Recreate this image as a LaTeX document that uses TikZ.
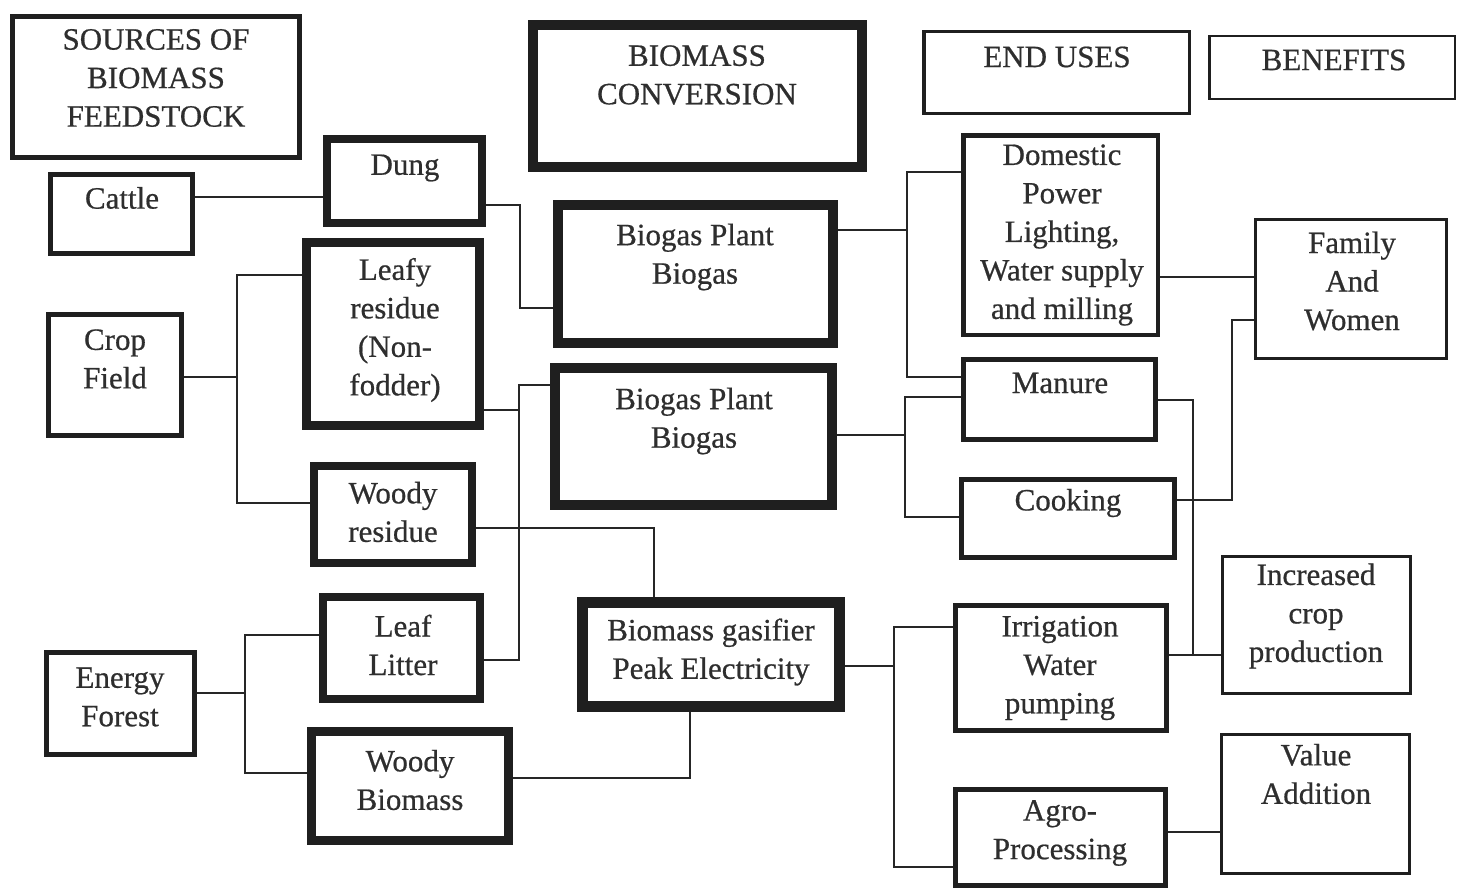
\documentclass[tikz,border=0pt]{standalone}
\usepackage{fontspec}
\setmainfont[FakeBold=0.6]{Liberation Serif}
\tikzset{
  bx/.style={draw=black!88, fill=white, inner sep=0pt},
  txt/.style={align=center, text=black!82, font=\fontsize{31}{38.5}\selectfont, inner sep=0pt},
  conn/.style={draw=black!85, line width=2.4pt},
}
\newcommand{\mkbox}[9]{%
  \node[bx, line width=#6pt, minimum width={(#4-#2-#6)*1pt}, minimum height={(#5-#3-#6)*1pt}] (#1) at ({(#2+#4)/2},{(#3+#5)/2}) {};
  \node[txt] (#1t) at (#7,#8) {#9};
}
\begin{document}
\begin{tikzpicture}[x=1pt,y=-1pt]
\fill[white] (0,0) rectangle (1465,891);
\useasboundingbox (0,0) rectangle (1465,891);
% headers
\mkbox{src}{10}{14}{302}{160}{5}{156}{78}{SOURCES OF\\BIOMASS\\FEEDSTOCK}
\mkbox{conv}{528}{20}{867}{172}{10}{697}{75}{BIOMASS\\CONVERSION}
\mkbox{enduse}{922}{30}{1191}{115}{3.5}{1057}{57}{END USES}
\mkbox{benef}{1208}{35}{1456}{100}{2.5}{1334}{60}{BENEFITS}
% sources
\mkbox{cattle}{48}{172}{195}{256}{5}{122}{198}{Cattle}
\mkbox{crop}{46}{312}{184}{438}{5}{115}{359}{Crop\\Field}
\mkbox{energy}{44}{650}{197}{757}{5}{120}{697}{Energy\\Forest}
% feedstock
\mkbox{dung}{323}{135}{486}{227}{8}{405}{168}{Dung}
\mkbox{leafy}{302}{238}{484}{430}{9}{395}{330}{Leafy\\residue\\(Non-\\fodder)}
\mkbox{woodyres}{310}{462}{476}{567}{8}{393}{512}{Woody\\residue}
\mkbox{litter}{319}{593}{484}{703}{8}{403}{645}{Leaf\\Litter}
\mkbox{woodybio}{307}{727}{513}{845}{9}{410}{780}{Woody\\Biomass}
% conversion
\mkbox{bgA}{553}{200}{838}{348}{10}{695}{257}{Biogas Plant\\Biogas}
\mkbox{bgB}{550}{363}{837}{510}{10}{694}{421}{Biogas Plant\\Biogas}
\mkbox{gasif}{577}{597}{845}{712}{11}{711}{652}{Biomass gasifier\\Peak Electricity}
% end uses
\mkbox{domestic}{961}{133}{1160}{337}{4.5}{1062}{235}{Domestic\\Power\\Lighting,\\Water supply\\and milling}
\mkbox{manure}{961}{357}{1158}{442}{5}{1060}{383}{Manure}
\mkbox{cooking}{959}{477}{1177}{560}{5}{1068}{503}{Cooking}
\mkbox{irrig}{953}{603}{1169}{733}{5}{1060}{668}{Irrigation\\Water\\pumping}
\mkbox{agro}{953}{787}{1168}{888}{5}{1060}{833}{Agro-\\Processing}
% benefits
\mkbox{family}{1254}{218}{1448}{360}{3}{1352}{281}{Family\\And\\Women}
\mkbox{incr}{1221}{555}{1412}{695}{3}{1316}{616}{Increased\\crop\\production}
\mkbox{value}{1220}{733}{1411}{875}{3}{1316}{774}{Value\\Addition}
% connectors
\draw[conn] (cattle.east |- 0,197) -- (dung.west |- 0,197);
\draw[conn] (crop.east |- 0,377) -- (237,377);
\draw[conn] (leafy.west |- 0,275) -- (237,275) -- (237,503) -- (woodyres.west |- 0,503);
\draw[conn] (dung.east |- 0,205) -- (520,205) -- (520,308) -- (bgA.west |- 0,308);
\draw[conn] (bgB.west |- 0,385) -- (519,385) -- (519,660) -- (litter.east |- 0,660);
\draw[conn] (leafy.east |- 0,410) -- (519,410);
\draw[conn] (woodyres.east |- 0,528) -- (654,528) -- (gasif.north -| 654,0);
\draw[conn] (woodybio.east |- 0,778) -- (690,778) -- (gasif.south -| 690,0);
\draw[conn] (energy.east |- 0,693) -- (245,693);
\draw[conn] (litter.west |- 0,635) -- (245,635) -- (245,773) -- (woodybio.west |- 0,773);
\draw[conn] (bgA.east |- 0,230) -- (907,230);
\draw[conn] (domestic.west |- 0,172) -- (907,172) -- (907,377) -- (manure.west |- 0,377);
\draw[conn] (bgB.east |- 0,435) -- (905,435);
\draw[conn] (manure.west |- 0,397) -- (905,397) -- (905,517) -- (cooking.west |- 0,517);
\draw[conn] (domestic.east |- 0,277) -- (family.west |- 0,277);
\draw[conn] (cooking.east |- 0,500) -- (1232,500) -- (1232,320) -- (family.west |- 0,320);
\draw[conn] (manure.east |- 0,400) -- (1193,400) -- (1193,655) -- (incr.west |- 0,655);
\draw[conn] (irrig.east |- 0,655) -- (incr.west |- 0,655);
\draw[conn] (gasif.east |- 0,666) -- (894,666);
\draw[conn] (irrig.west |- 0,627) -- (894,627) -- (894,867) -- (agro.west |- 0,867);
\draw[conn] (agro.east |- 0,832) -- (value.west |- 0,832);
\end{tikzpicture}
\end{document}
